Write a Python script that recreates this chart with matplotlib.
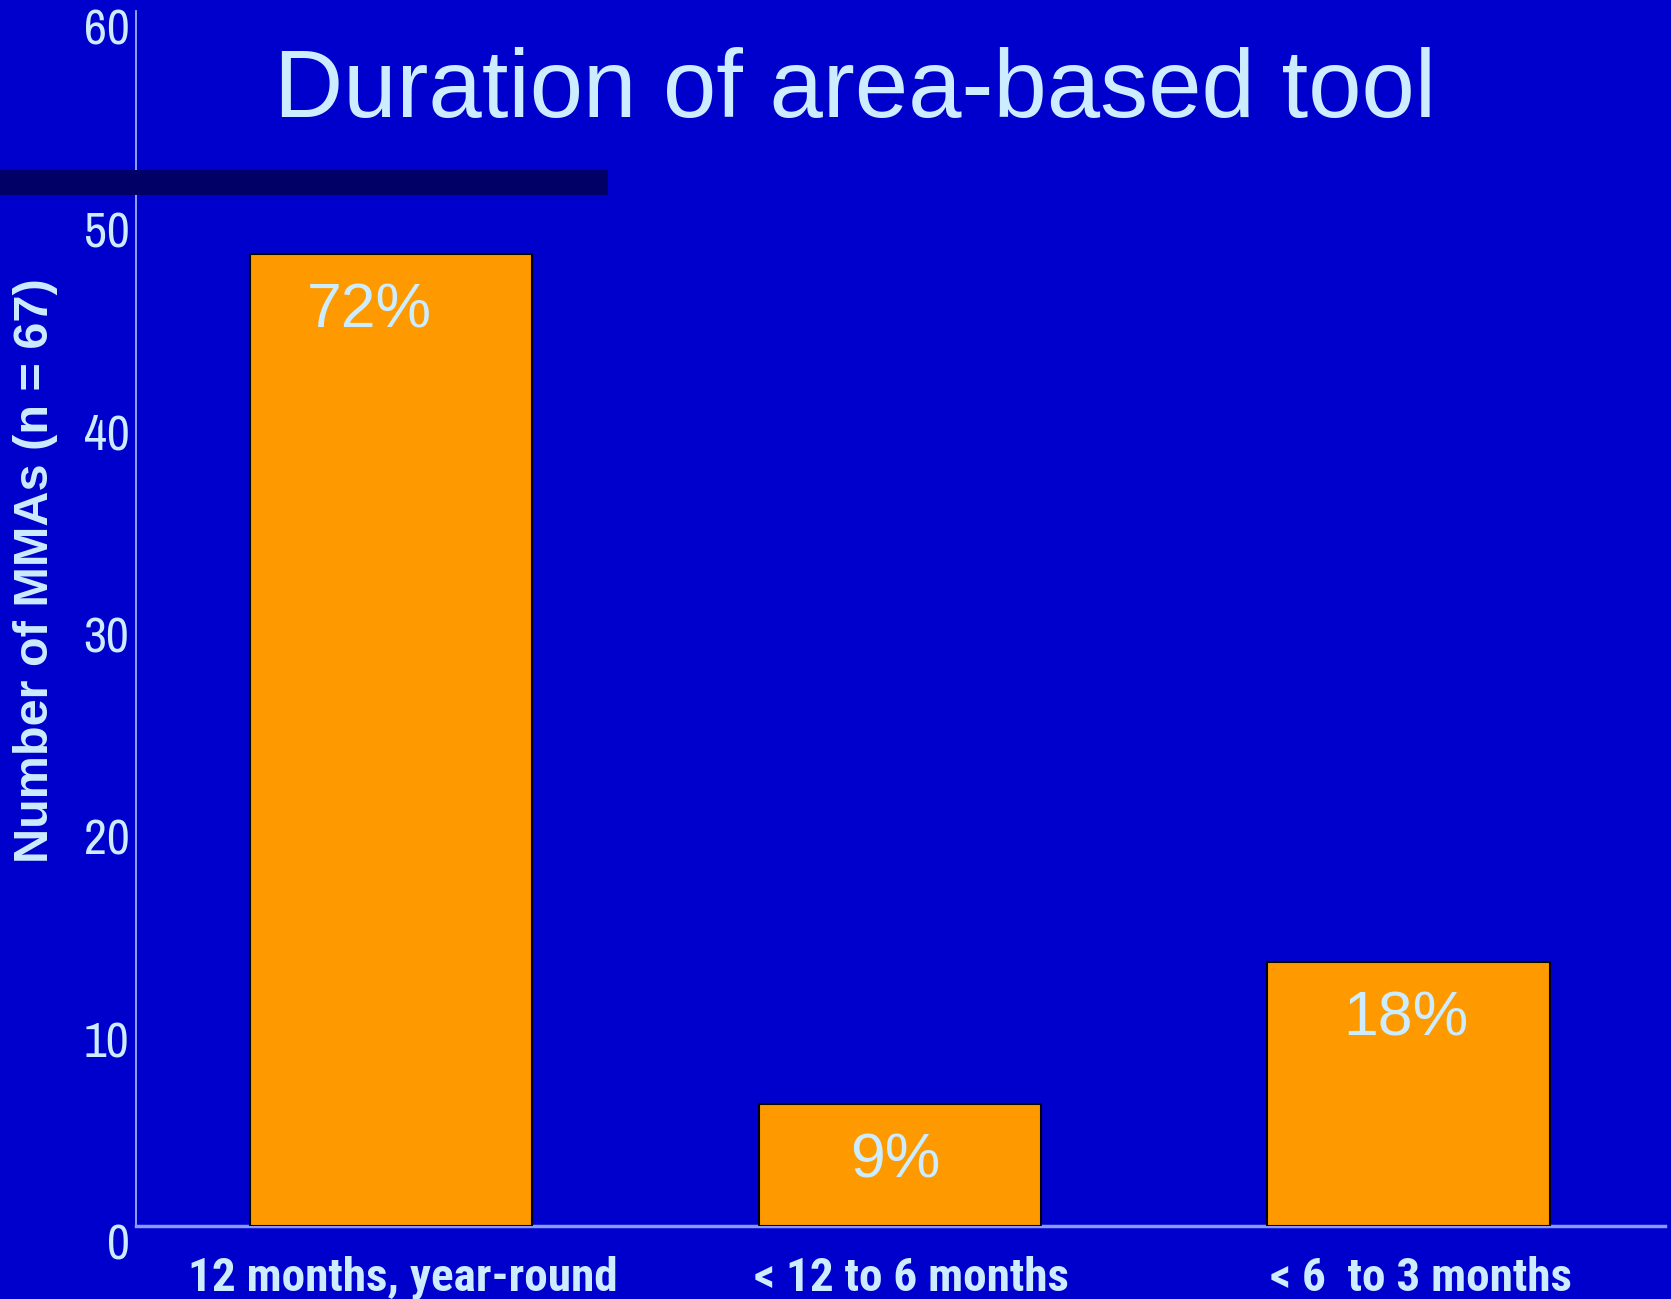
import matplotlib.pyplot as plt
import matplotlib.transforms as mtransforms
from matplotlib.patches import Rectangle

categorias = ['12 months, year-round', '< 12 to 6 months', '< 6  to 3 months']
valores = [48, 6, 13]
porcentajes = ['72%', '9%', '18%']
ticks_y = [0, 10, 20, 30, 40, 50, 60]

fondo = '#0000CC'
texto = '#CCECFF'
naranja = '#FF9900'
angosta = ['Liberation Sans Narrow', 'Archivo Narrow', 'Roboto Condensed', 'Barlow Condensed', 'DejaVu Sans']
angosta_negrita = ['Liberation Sans Narrow', 'Roboto Condensed', 'Barlow Condensed', 'DejaVu Sans']
normal = ['Liberation Sans', 'DejaVu Sans']

fig = plt.figure(figsize=(16.71, 12.99), dpi=100, facecolor=fondo)
ax = fig.add_axes([0.0816, 0.0565, 0.9146, 0.9353])
ax.set_facecolor(fondo)

x = list(range(len(categorias)))
barras = ax.bar(x, valores, width=0.555, color=naranja, edgecolor='black', linewidth=1.5, zorder=3)

# desplazamiento horizontal de cada etiqueta de porcentaje (px)
desp = [-22, -4, -3]
for b, p, d in zip(barras, porcentajes, desp):
    ax.annotate(p, (b.get_x() + b.get_width() / 2, b.get_height()), xytext=(d, -57),
                textcoords='offset pixels', ha='center', va='center',
                fontsize=45, color=texto, family=normal, zorder=4)

ax.set_xlim(-0.5, 2.503)
ax.set_ylim(0, 60)
ax.set_yticks(ticks_y)
ax.set_yticklabels([str(t) for t in ticks_y], fontsize=36, color=texto, family=angosta)
ax.set_xticks(x)
ax.set_xticklabels(categorias, fontsize=34, color=texto, family=angosta_negrita, fontweight='bold')
ax.tick_params(axis='both', length=0)
ax.tick_params(axis='y', pad=5)
ax.tick_params(axis='x', pad=22)

# etiquetas del eje y un poco mas abajo, como en la lamina original
off_y = mtransforms.ScaledTranslation(0, -0.16, fig.dpi_scale_trans)
for lbl in ax.get_yticklabels():
    lbl.set_transform(lbl.get_transform() + off_y)
off_x = mtransforms.ScaledTranslation(0.12, 0, fig.dpi_scale_trans)
for lbl in ax.get_xticklabels():
    lbl.set_transform(lbl.get_transform() + off_x)

for lado in ['top', 'right']:
    ax.spines[lado].set_visible(False)
ax.spines['left'].set_color('#AABBFF')
ax.spines['left'].set_linewidth(1.2)
ax.spines['bottom'].set_color('#8899FF')
ax.spines['bottom'].set_linewidth(2.5)

fig.text(0.0215, 0.561, 'Number of MMAs (n = 67)', rotation=90, ha='center', va='center',
         fontsize=35, fontweight='bold', color=texto, family=normal)

fig.text(0.5116, 0.910, 'Duration of area-based tool', ha='center', va='baseline',
         fontsize=69, color=texto, family=normal)

# barra oscura decorativa de la plantilla
fig.patches.append(Rectangle((0, 0.8499), 0.364, 0.0196, transform=fig.transFigure,
                             facecolor='#000066', edgecolor='none', zorder=0))

fig.savefig('out.png', dpi=100, facecolor=fondo)
